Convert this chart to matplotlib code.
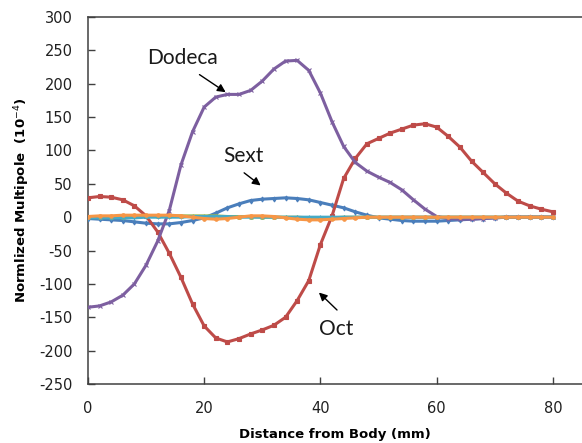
import numpy as np
import matplotlib
matplotlib.use("Agg")
import matplotlib.pyplot as plt

plt.rcParams["axes.unicode_minus"] = False

# distance from body (mm), sampled every 2 mm
distance = list(range(0, 82, 2))

sext = [-2, -3, -4, -5, -7, -9, -10, -10, -8, -5, -1, 6, 14, 20, 25, 27, 28, 29, 28, 26,
        22, 18, 14, 8, 3, -1, -3, -5, -6, -6, -6, -5, -4, -3, -2, -1, 0, 0, 0, 0, 0]
oct_ = [29, 31, 30, 26, 17, 2, -22, -54, -90, -130, -163, -181, -187, -182, -175, -169,
        -162, -150, -125, -95, -41, 2, 58, 88, 110, 118, 126, 132, 138, 140, 135, 121,
        105, 84, 67, 50, 36, 24, 17, 12, 8]
deca = [0, 0, 1, 1, 2, 2, 2, 2, 2, 2, 2, 2, 1, 1, 1, 0, 0, 0, 0, -1, -1, -1, 0, 0, 0,
        0, 0, 0, 0, 0, 0, 0, 0, 0, 0, 0, 0, 0, 0, 0, 0]
dodeca = [-135, -133, -127, -117, -100, -72, -36, 10, 78, 128, 165, 180, 184, 184, 190,
          204, 222, 234, 235, 220, 186, 143, 106, 82, 69, 60, 52, 41, 26, 12, 1, -2, -3,
          -3, -2, -1, 0, 0, 0, 0, 0]
other1 = [-1, -1, -1, -1, -1, 0, 0, 0, 0, 1, 1, 1, 1, 0, 0, 0, 0, 0, 0, 0, 0, 0, 0, 0,
          0, 0, 0, 0, 0, 0, 0, 0, 0, 0, 0, 0, 0, 0, 0, 0, 0]
other2 = [1, 2, 2, 3, 3, 3, 3, 3, 2, 0, -2, -3, -2, 0, 2, 2, 1, -1, -3, -4, -4, -3, -2,
          -1, 0, 0, 0, 0, 0, 0, 0, 0, 0, 0, 0, 0, 0, 0, 0, 0, 0]

series = [
    (sext, "#4a7ebb", "d"),
    (oct_, "#be4b48", "s"),
    (deca, "#98b954", "^"),
    (dodeca, "#7d5fa0", "x"),
    (other1, "#46aac5", "+"),
    (other2, "#f79646", "o"),
]

fig = plt.figure(figsize=(5.82, 4.43), dpi=100)
ax = fig.add_axes([0.151, 0.1332, 0.849, 0.8284])

for vals, color, mk in series:
    ax.plot(distance, vals, color=color, lw=2.2, marker=mk, markersize=2.5,
            markeredgewidth=0.8, zorder=3)

ax.set_xlim(0, 85)
ax.set_ylim(-250, 300)
ax.set_xticks([0, 20, 40, 60, 80])
ax.set_yticks(range(-250, 301, 50))
ax.tick_params(direction="in", length=5, width=1, color="#404040",
               labelsize=10.5, labelcolor="#202020")
ax.tick_params(axis="y", pad=11)
ax.tick_params(axis="x", pad=12)
for side in ["left", "bottom", "top"]:
    ax.spines[side].set_color("#404040")
    ax.spines[side].set_linewidth(1.1)
ax.spines["right"].set_visible(False)

ax.set_xlabel("Distance from Body (mm)", fontsize=9.5, fontweight="bold", labelpad=9)
ax.set_ylabel("Normlized Multipole  (10$^{-4}$)", fontsize=9.5, fontweight="bold",
              labelpad=5)

arrow = dict(arrowstyle="-|>", color="black", lw=1, mutation_scale=12)
lab = dict(fontsize=15, family="Lato", ha="center", va="center", color="#1a1a1a")
ax.annotate("", xy=(24.1, 185), xytext=(18.8, 216), arrowprops=arrow)
ax.text(16.3, 238, "Dodeca", **lab)
ax.annotate("", xy=(30.1, 45), xytext=(26.5, 69), arrowprops=arrow)
ax.text(26.8, 92, "Sext", **lab)
ax.annotate("", xy=(39.4, -110), xytext=(43.2, -142), arrowprops=arrow)
ax.text(42.7, -167, "Oct", **lab)

fig.savefig("out.png", dpi=100)
